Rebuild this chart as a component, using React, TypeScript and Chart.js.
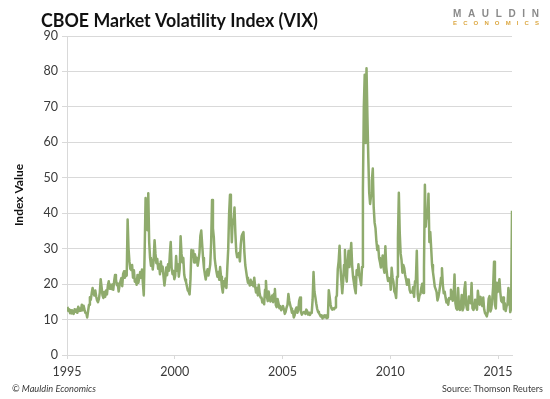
import React, { useEffect, useRef } from 'react';
import { Chart, registerables } from 'chart.js';

Chart.register(...registerables);

// Semi-monthly VIX readings (two per month)
const vix1995 = [13.6,12.4,12.9,11.8,12.6,11.7,12.3,11.6,12.9,12.2,12.8,11.9,13.6,12.4,13.1,12.5,14.2,12.6,13.9,12.8,11.9,11.8,10.6,12.4];
const vix1996 = [14.2,16.3,15.6,17.4,18.9,17.5,16.8,18.2,16.5,15.4,14.9,15.8,17.6,21.4,19.2,16.9,16.1,17.8,16.4,18.2,17.1,19.6,20.8,18.7];
const vix1997 = [19.8,18.6,19.9,18.4,20.8,22.6,21.4,19.7,20.2,17.9,19.6,20.8,21.7,19.4,22.9,23.6,21.8,23.1,22.4,38.2,30.1,26.4,24.3,24.0];
const vix1998 = [25.4,21.8,23.9,20.7,21.3,19.8,22.6,20.4,21.9,23.4,21.8,24.1,20.3,16.8,29.6,44.3,38.5,35.2,45.6,31.8,27.4,25.2,26.8,24.1];
const vix1999 = [26.8,32.4,28.6,25.9,27.1,24.3,25.6,22.8,26.4,23.7,24.9,22.1,19.6,21.8,24.7,22.5,25.6,23.8,28.4,31.9,24.6,22.8,23.7,21.4];
const vix2000 = [22.4,27.9,23.8,25.6,22.1,24.3,33.5,28.6,26.1,27.4,22.7,21.3,20.6,19.4,18.2,17.9,17.1,21.4,29.6,27.8,29.5,26.1,28.4,26.9];
const vix2001 = [27.4,25.2,26.8,28.9,33.6,35.1,31.2,27.4,24.6,22.8,21.3,23.1,24.2,22.4,23.8,25.6,31.6,43.7,35.8,33.1,27.2,25.1,23.4,22.1];
const vix2002 = [23.4,21.2,24.8,22.1,19.2,17.6,20.8,19.4,21.6,18.9,24.6,29.8,39.8,45.2,40.5,31.8,38.2,37.1,41.6,34.2,29.1,27.6,27.9,28.8];
const vix2003 = [26.4,31.2,33.6,34.2,34.7,29.1,25.4,23.6,21.8,20.4,20.9,19.6,21.2,19.8,20.6,19.4,21.8,19.3,17.6,18.9,16.8,19.8,17.4,16.2];
const vix2004 = [16.2,14.8,15.6,14.3,18.4,20.9,16.6,15.2,17.9,16.4,15.1,15.6,16.8,14.9,17.3,18.6,14.1,13.5,15.8,14.6,13.2,13.8,12.6,13.3];
const vix2005 = [13.8,12.9,11.6,12.2,13.4,14.1,17.2,15.3,14.2,13.1,11.9,12.4,10.6,11.2,12.8,13.4,11.9,12.6,15.3,16.2,12.1,11.4,11.9,12.1];
const vix2006 = [12.1,11.6,12.8,12.3,11.4,11.9,11.3,11.8,11.9,15.6,23.4,17.9,16.4,14.6,13.1,12.2,11.8,11.4,10.9,11.2,10.3,10.8,11.2,10.6];
const vix2007 = [11.2,10.4,10.6,18.3,16.4,14.2,13.1,12.8,13.2,12.9,13.4,16.2,16.8,24.2,26.5,30.8,24.6,20.9,17.4,20.8,25.4,29.6,22.6,20.7];
const vix2008 = [26.2,29.4,24.8,27.9,31.6,25.4,22.1,20.4,18.7,17.4,23.9,22.6,25.6,22.4,21.3,19.7,24.8,46.7,69.9,79.1,59.8,80.9,67.3,55.6];
const vix2009 = [45.8,42.6,44.9,49.2,52.6,41.7,37.4,35.8,32.1,29.6,30.8,27.4,26.2,24.7,25.8,28.1,24.6,23.2,30.7,24.8,22.4,20.9,21.7,21.6];
const vix2010 = [18.4,24.6,21.8,20.6,17.9,17.4,16.1,22.1,32.8,45.8,34.5,28.6,26.8,23.2,25.4,24.5,22.6,21.4,19.8,20.6,21.3,18.4,17.6,17.8];
const vix2011 = [17.6,19.2,16.4,20.8,21.3,29.4,17.2,15.3,16.8,17.2,18.9,20.1,17.5,24.6,48.0,36.2,40.8,38.6,45.5,31.9,34.7,30.2,25.4,23.4];
const vix2012 = [21.4,19.3,18.6,17.8,15.4,16.3,17.8,19.6,21.8,24.5,19.8,17.4,17.9,16.2,14.8,15.6,14.2,16.1,15.8,18.4,17.6,15.3,16.4,22.7];
const vix2013 = [14.6,13.1,12.8,18.9,13.4,12.7,13.9,16.9,12.6,13.4,18.6,20.5,14.1,12.8,13.6,16.5,15.2,14.6,20.3,13.2,12.7,13.4,15.6,13.7];
const vix2014 = [12.8,18.1,15.9,14.2,16.4,14.6,13.8,16.2,12.9,11.8,11.4,10.9,12.1,15.9,16.6,12.3,13.1,15.6,19.3,26.3,14.2,13.1,20.4,17.8];
const vix2015 = [19.2,21.4,17.6,15.3,14.9,16.2,12.9,14.6,12.4,13.8,14.2,18.9,16.8,12.1,13.0,40.7];

const seriesYears = [1995,1996,1997,1998,1999,2000,2001,2002,2003,2004,2005,2006,2007,2008,2009,2010,2011,2012,2013,2014,2015];
const seriesValues = [vix1995,vix1996,vix1997,vix1998,vix1999,vix2000,vix2001,vix2002,vix2003,vix2004,vix2005,vix2006,vix2007,vix2008,vix2009,vix2010,vix2011,vix2012,vix2013,vix2014,vix2015];
const samplesPerYear = 24;

const xTickYears = [1995, 2000, 2005, 2010, 2015];
const yTickValues = [0, 10, 20, 30, 40, 50, 60, 70, 80, 90];

const titleText = 'CBOE Market Volatility Index (VIX)';
const yAxisTitle = 'Index Value';
const footerLeft = '© Mauldin Economics';
const footerRight = 'Source: Thomson Reuters';
const logoTop = 'MAULDIN';
const logoBottom = 'ECONOMICS';

const LINE_COLOR = '#8fab6d';
const GRID_COLOR = '#d9d9d9';
const TEXT_COLOR = '#3a3a3a';

function drawSpaced(ctx: CanvasRenderingContext2D, text: string, x0: number, y: number, x1: number, font: string, color: string) {
  ctx.font = font;
  ctx.fillStyle = color;
  ctx.textAlign = 'left';
  ctx.textBaseline = 'alphabetic';
  const chars = text.split('');
  const widths = chars.map((c) => ctx.measureText(c).width);
  const total = widths.reduce((a, b) => a + b, 0);
  const gap = chars.length > 1 ? (x1 - x0 - total) / (chars.length - 1) : 0;
  let x = x0;
  chars.forEach((c, i) => {
    ctx.fillText(c, x, y);
    x += widths[i] + gap;
  });
}

const extraTextPlugin = {
  id: 'extraText',
  afterDraw(chart: any) {
    const ctx: CanvasRenderingContext2D = chart.ctx;
    ctx.save();
    ctx.fillStyle = '#111111';
    ctx.font = 'bold 18px Lato';
    ctx.textAlign = 'left';
    ctx.textBaseline = 'alphabetic';
    ctx.fillText(titleText, 41, 26.5, 277);

    drawSpaced(ctx, logoTop, 453, 17, 539, 'bold 10px "Liberation Sans"', '#8a8a8a');
    drawSpaced(ctx, logoBottom, 453, 24.5, 539, 'bold 6px "Liberation Sans"', '#dca842');

    ctx.save();
    ctx.translate(19, 195);
    ctx.rotate(-Math.PI / 2);
    ctx.textAlign = 'center';
    ctx.textBaseline = 'middle';
    ctx.font = 'bold 12px Lato';
    ctx.fillStyle = '#111111';
    ctx.fillText(yAxisTitle, 0, 0);
    ctx.restore();

    ctx.fillStyle = TEXT_COLOR;
    ctx.textBaseline = 'alphabetic';
    ctx.font = 'italic 10px Lato';
    ctx.textAlign = 'left';
    ctx.fillText(footerLeft, 12, 392, 84);
    ctx.font = '10px Lato';
    ctx.textAlign = 'right';
    ctx.fillText(footerRight, 543, 392, 101);
    ctx.restore();
  },
};

export default function App() {
  const canvasRef = useRef<HTMLCanvasElement | null>(null);

  useEffect(() => {
    if (!canvasRef.current) return;
    const points: { x: number; y: number }[] = [];
    seriesYears.forEach((yr, i) => {
      seriesValues[i].forEach((v, k) => {
        points.push({ x: yr + (k + 0.5) / samplesPerYear, y: v });
      });
    });
    const lastX = points[points.length - 1].x;

    const chart = new Chart(canvasRef.current, {
      type: 'line',
      data: {
        datasets: [
          {
            data: points,
            borderColor: LINE_COLOR,
            borderWidth: 2.5,
            pointRadius: 0,
            tension: 0,
            borderJoinStyle: 'round',
            fill: false,
          },
        ],
      },
      options: {
        animation: false,
        responsive: false,
        events: [],
        layout: { padding: { top: 36, right: 38, bottom: 0, left: 0 } },
        plugins: {
          legend: { display: false },
          tooltip: { enabled: false },
          title: { display: false },
        },
        scales: {
          x: {
            type: 'linear',
            min: seriesYears[0],
            max: lastX,
            afterBuildTicks: (scale: any) => {
              scale.ticks = xTickYears.map((v) => ({ value: v }));
            },
            afterFit: (scale: any) => {
              scale.height = 44;
            },
            ticks: {
              autoSkip: false,
              maxRotation: 0,
              padding: 5,
              color: TEXT_COLOR,
              font: { family: 'Lato', size: 12.5 },
              callback: (v: any) => String(v),
            },
            grid: {
              display: true,
              drawOnChartArea: false,
              drawTicks: true,
              tickLength: 4,
              color: GRID_COLOR,
            },
            border: { display: true, color: GRID_COLOR },
          },
          y: {
            type: 'linear',
            min: 0,
            max: 90,
            afterBuildTicks: (scale: any) => {
              scale.ticks = yTickValues.map((v) => ({ value: v }));
            },
            afterFit: (scale: any) => {
              scale.width = 67;
            },
            ticks: {
              padding: 4,
              color: TEXT_COLOR,
              font: { family: 'Lato', size: 12.5 },
              callback: (v: any) => String(v),
            },
            grid: {
              color: GRID_COLOR,
              drawTicks: true,
              tickLength: 5,
            },
            border: { display: true, color: GRID_COLOR },
          },
        },
      },
      plugins: [extraTextPlugin],
    });
    return () => chart.destroy();
  }, []);

  return (
    <div style={{ position: 'fixed', left: 0, top: 0, width: 550, height: 399, background: '#ffffff' }}>
      <canvas ref={canvasRef} width={550} height={399} style={{ display: 'block' }} />
    </div>
  );
}
